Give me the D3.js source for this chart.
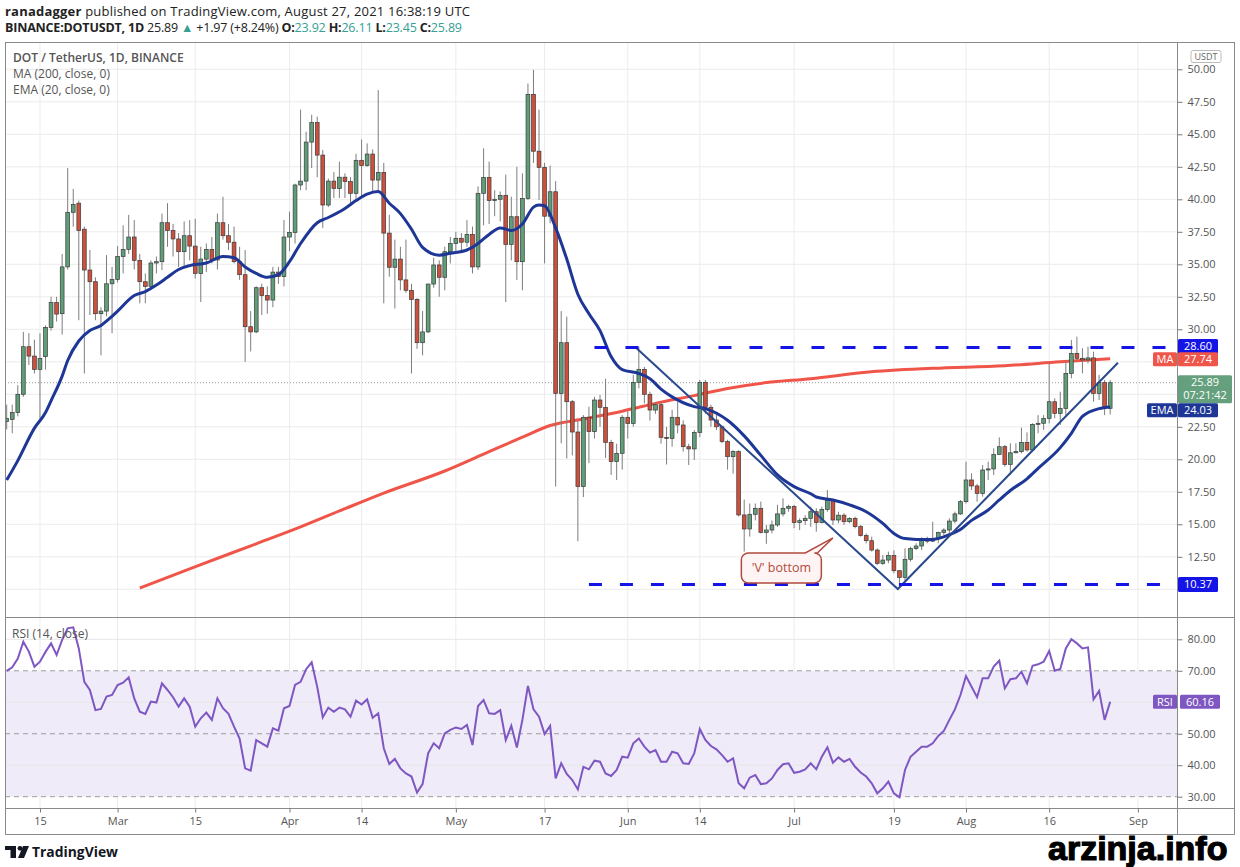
<!DOCTYPE html>
<html>
<head>
<meta charset="utf-8">
<script src="https://cdnjs.cloudflare.com/ajax/libs/d3/7.8.5/d3.min.js"></script>
<style>
  body { margin: 0; background: #fff; }
  svg { display: block; }
  text { font-family: "Open Sans", "Noto Sans", sans-serif; }
</style>
</head>
<body>
<script>
// DOT / USDT daily candles, Feb 9 2021 -> Aug 27 2021 (one value per day)
var startDate = "2021-02-09";

var opens = [22.9,23.07,23.6,25.0,28.66,27.94,26.92,27.9,30.15,32.05,
  31.2,34.8,39.0,39.7,37.7,34.56,33.66,31.2,31.4,33.5,
  33.84,35.6,36.15,37.1,35.3,33.66,33.3,35.1,35.2,38.2,
  37.6,36.95,35.97,37.2,36.4,34.3,35.4,36.15,35.33,38.2,37.2,36.7,35.2,34.2,30.2,29.8,33.2,32.6,32.25,34.4,
  34.05,37.1,37.45,41.1,41.4,44.4,45.9,43.4,39.56,41.4,40.84,41.7,41.36,40.46,43.0,42.6,43.48,41.48,42.07,37.4,
  34.77,35.4,33.8,33.0,32.3,28.97,29.8,33.48,34.95,34.0,35.97,36.6,37.0,36.7,37.3,34.8,40.46,41.69,39.9,40.0,
  40.3,36.53,38.66,35.2,40.07,48.07,43.7,42.46,38.7,40.58,25.07,28.97,24.43,22.1,17.9,23.23,22.13,24.56,24.0,21.3,
  19.82,20.46,23.23,22.76,25.92,26.92,25.0,23.79,24.2,21.69,21.6,23.23,22.64,20.97,20.8,22.07,25.92,24.0,23.02,22.5,
  21.36,20.2,20.59,15.72,14.64,15.77,16.23,14.38,14.56,14.95,15.8,16.23,16.36,15.13,15.28,15.46,15.97,15.13,16.15,16.87,
  15.33,15.7,15.2,15.46,14.82,14.13,13.74,13.02,12.0,12.25,12.59,11.43,10.92,12.31,13.13,13.33,13.79,13.7,13.9,14.38,
  14.56,15.25,15.8,16.74,18.41,17.95,17.38,19.18,19.26,20.38,20.97,19.61,20.5,20.59,21.3,20.72,22.69,22.77,23.15,24.43,
  23.53,23.92,26.61,28.15,27.77,27.64,27.8,25.07,25.9,23.92];
var highs = [24.2,24.2,25.7,29.8,29.7,29.2,29.7,30.3,32.5,32.5,
  35.8,42.4,40.8,39.9,37.9,36.1,34.0,31.7,35.7,34.8,
  36.4,38.0,38.8,38.4,35.8,34.3,35.3,35.6,38.9,39.7,
  38.1,37.4,38.3,38.4,38.5,36.35,36.6,37.1,38.9,40.2,38.1,37.9,36.35,36.1,31.4,33.3,33.5,33.3,34.8,34.8,
  38.4,39.05,41.2,46.9,45.2,46.5,46.35,43.8,41.6,42.1,42.9,42.0,41.7,43.5,44.6,44.3,43.84,48.4,42.8,38.8,
  36.9,36.35,36.9,33.5,32.4,31.4,33.5,35.5,35.3,36.35,37.1,37.5,37.4,38.4,37.9,41.0,43.92,42.9,40.7,40.6,
  41.9,40.2,42.5,42.0,48.9,49.95,46.9,42.8,42.6,41.4,31.4,30.97,24.56,23.0,23.4,24.05,24.8,24.95,26.2,21.5,
  21.2,23.4,23.7,26.5,28.66,27.1,25.2,24.4,24.4,22.5,23.8,24.4,23.0,21.2,22.25,26.1,26.1,24.2,23.4,22.6,
  21.5,20.7,20.7,16.9,16.6,16.6,16.75,14.95,15.3,16.5,17.0,16.5,16.5,15.46,15.7,16.36,16.23,16.36,17.64,16.92,
  15.97,15.85,15.54,15.59,14.95,14.3,14.05,13.15,12.64,12.9,13.0,11.48,13.15,13.28,13.54,14.0,14.05,15.2,14.43,14.69,
  15.46,15.97,16.87,19.82,18.92,18.1,19.56,19.82,20.84,21.69,21.1,21.23,21.23,22.43,22.07,22.77,23.4,23.4,27.38,24.69,
  25.2,27.5,29.18,29.43,28.54,28.66,28.28,26.49,26.1,26.11];
var lows = [22.3,22.0,23.3,24.8,27.25,26.6,23.15,26.9,29.9,30.6,
  29.6,34.6,37.9,30.7,26.6,31.1,30.7,28.0,31.0,29.7,
  33.6,34.3,35.8,34.6,32.0,32.0,33.1,34.3,34.56,36.35,
  35.6,34.8,34.8,35.3,33.9,32.1,34.4,35.07,34.6,36.9,36.1,35.07,33.8,27.5,28.3,29.7,31.1,31.2,31.7,33.5,
  33.3,36.0,36.6,40.7,40.7,42.4,41.7,37.8,39.4,40.1,40.1,40.1,39.7,39.9,40.2,42.5,40.6,40.6,32.0,34.05,
  31.6,33.0,32.8,26.6,28.5,28.0,29.7,33.2,32.5,33.0,35.07,35.8,36.1,36.35,34.3,34.56,38.0,38.1,38.7,38.3,
  32.1,35.3,33.8,33.0,39.95,42.8,39.95,35.07,38.15,17.9,21.23,20.07,20.3,13.7,17.1,19.7,21.6,22.5,20.1,18.8,
  18.4,19.2,21.6,22.5,25.46,24.3,22.97,23.5,21.2,19.6,20.97,22.0,20.59,19.56,19.95,21.7,23.5,22.5,22.25,21.23,
  19.2,18.9,15.6,12.9,14.05,15.3,14.3,13.5,14.3,14.8,15.6,15.97,14.7,14.56,14.95,14.8,14.43,15.08,15.97,14.95,
  15.08,14.95,15.08,14.69,14.05,13.53,12.9,11.87,11.87,12.0,11.23,10.37,10.6,12.13,13.02,13.02,13.54,13.66,13.54,14.18,
  14.3,15.08,15.72,16.6,17.64,16.74,17.13,18.41,18.79,20.33,19.43,18.79,20.46,20.46,20.59,20.59,22.0,22.25,22.77,23.15,
  22.64,23.4,26.23,27.64,26.61,27.38,24.43,24.56,23.4,23.45];
var closes = [23.15,23.6,25.0,28.66,27.94,26.92,27.76,30.15,32.05,31.17,
  34.8,39.0,39.6,37.6,34.56,33.66,31.2,31.4,33.5,33.84,
  35.6,36.15,37.1,35.3,33.66,33.3,35.1,35.2,38.2,37.6,
  36.95,35.97,37.2,36.4,34.3,35.4,36.15,35.33,38.2,37.2,36.7,35.2,34.2,30.2,29.8,33.2,32.6,32.25,34.4,34.05,
  37.1,37.45,41.1,41.4,44.4,45.9,43.4,39.56,41.4,40.84,41.7,41.36,40.46,43.0,42.6,43.48,41.48,42.07,37.4,34.77,
  35.4,33.8,33.0,32.3,28.97,29.8,33.48,34.95,34.0,35.97,36.6,37.0,36.7,37.3,34.8,40.46,41.69,39.9,40.0,40.3,
  36.53,38.66,35.2,40.07,48.07,43.7,42.46,38.7,40.58,25.07,28.97,24.43,22.1,17.9,23.23,22.13,24.56,24.0,21.3,19.82,
  20.46,23.23,22.76,25.92,26.92,25.0,23.79,24.2,21.69,21.6,23.23,22.64,20.97,20.8,22.07,25.92,24.0,23.02,22.5,21.36,
  20.2,20.59,15.72,14.64,15.77,16.23,14.38,14.56,14.95,15.8,16.23,16.36,15.13,15.28,15.46,15.97,15.13,16.15,16.87,15.33,
  15.7,15.2,15.46,14.82,14.13,13.74,13.02,12.0,12.25,12.59,11.43,10.92,12.31,13.13,13.33,13.79,13.7,13.9,14.38,14.56,
  15.25,15.8,16.74,18.41,17.95,17.38,19.18,19.26,20.38,20.97,19.61,20.5,20.59,21.3,20.72,22.69,22.77,23.15,24.43,23.53,
  23.92,26.61,28.15,27.77,27.64,27.8,25.07,25.9,23.92,25.89];

// RSI(14) read per day
var rsiValues = [70.0,71.1,73.9,79.25,76.1,71.3,72.9,76.0,78.7,75.0,79.8,83.5,83.8,
  77.1,66.5,63.9,57.5,57.9,61.8,62.3,65.5,66.2,67.9,
  61.2,57.0,56.3,60.2,59.9,66.0,63.9,61.6,58.6,61.25,
  58.6,52.25,54.9,56.7,54.4,61.25,58.1,56.3,52.25,48.5,
  39.0,38.3,48.0,46.95,45.9,51.7,51.0,58.1,58.8,65.5,
  66.5,70.5,72.7,64.9,55.2,58.3,57.0,58.3,57.75,55.4,
  60.5,59.3,60.9,55.1,56.5,45.4,40.4,42.0,39.0,37.4,
  36.4,31.3,34.0,43.8,46.95,45.4,50.1,51.2,52.0,51.5,
  52.8,46.4,58.8,60.7,56.5,56.3,57.5,48.0,52.5,45.6,
  54.4,65.2,57.75,55.4,49.9,52.5,35.8,40.6,37.2,35.3,
  32.3,39.5,38.7,41.45,41.1,
  37.4,36.6,38.5,42.7,42.4,46.95,48.5,
  45.9,44.0,44.8,41.1,41.1,44.3,43.8,40.6,40.4,43.8,
  51.5,48.0,46.1,45.05,43.2,41.1,42.2,34.25,32.66,36.05,
  36.9,34.0,34.25,35.8,38.5,40.3,40.6,37.6,37.95,38.7,
  40.6,38.7,42.7,45.7,40.8,42.5,41.1,42.0,39.5,37.7,
  36.4,34.25,31.07,32.66,34.8,31.07,29.8,38.5,42.7,44.3,
  45.9,45.9,46.95,49.3,50.9,54.4,57.75,62.3,68.3,64.95,
  61.6,67.6,67.6,71.3,73.2,64.4,67.3,67.6,69.7,66.0,
  71.6,72.05,72.9,76.3,70.0,70.6,77.1,80.0,78.7,77.1,
  77.45,60.9,63.6,54.4,60.16];

// EMA(20) and MA(200) read at sample days (day index from startDate)
var emaDays = [0,2,5,7,8,10,11,13,15,17,19,20,23,25,27,29,31,33,36,39,41,43,45,47,49,51,53,56,58,61,63,65,67,69,71,73,75,78,80,83,85,87,89,91,93,95,96,97,99,101,103,105,107,109,111,114,116,118,120,124,126,130,133,136,139,142,145,146,149,152,155,158,160,162,164,167,170,172,174,177,179,181,184,186,190,192,194,197,199];
var emaValues = [18.4,19.9,22.4,23.6,24.5,26.4,27.6,29.1,29.9,30.3,31.0,31.4,32.6,32.9,33.4,34.0,34.6,34.9,35.1,35.6,35.5,34.8,34.3,34.0,34.2,35.2,36.6,38.2,38.6,39.3,39.9,40.4,40.6,39.7,38.9,37.7,36.3,35.7,35.85,36.1,36.6,37.3,37.8,37.6,38.1,39.4,39.56,39.5,37.8,35.4,32.7,31.2,29.9,27.9,26.9,26.6,26.2,25.4,24.8,24.05,23.9,23.0,21.8,20.3,18.8,17.9,17.35,17.1,16.87,16.5,15.97,15.07,14.3,13.9,13.84,13.84,14.2,14.6,15.3,16.1,16.87,17.6,18.5,19.3,20.9,22.0,23.3,23.9,24.03];
var maDays = [24,35,45,53,61,68,79,86,93,98,104,111,118,124,130,137,145,155,167,180,190,199];
var maValues = [10.1,11.9,13.5,14.8,16.2,17.4,19.1,20.4,21.7,22.6,23.1,23.7,24.4,24.9,25.45,25.9,26.2,26.7,27.0,27.2,27.5,27.74];

// drawn levels and the 'V' trend lines
var resistance = { price: 28.60, fromDay: 106 };
var support = { price: 10.37, fromDay: 105 };
var vDays = [113.3, 160.7, 200.4];
var vPrices = [28.66, 10.02, 27.43];
var callout = { day: 139.7, price: 11.64, tipDay: 149, tipPrice: 13.95, text: "'V' bottom" };

var priceTicks = [10,12.5,15,17.5,20,22.5,25,27.5,30,32.5,35,37.5,40,42.5,45,47.5,50];
var priceLabelTicks = [12.5,15,17.5,20,22.5,30,32.5,35,37.5,40,42.5,45,47.5,50];
var rsiTicks = [30,40,50,60,70,80];
var rsiLabelTicks = [30,40,50,70,80];
var timeTickDates = ["2021-02-15","2021-03-01","2021-03-15","2021-04-01","2021-04-14","2021-05-01","2021-05-17",
  "2021-06-01","2021-06-14","2021-07-01","2021-07-19","2021-08-01","2021-08-16","2021-09-01"];
var timeTickLabels = ["15","Mar","15","Apr","14","May","17","Jun","14","Jul","19","Aug","16","Sep"];

var lastClose = 25.89, lastMA = 27.74, lastEMA = 24.03, lastRSI = 60.16;

// ---------------------------------------------------------------
var W = 1240, H = 867;
var paneL = 5, paneR = 1177, frameR = 1234;
var priceTop = 42, priceBot = 617, rsiBot = 808, axisBot = 834;

var green = "#5f9e79", red = "#cd503c", gridC = "#ececec";

var parse = d3.utcParse("%Y-%m-%d");
var t0 = parse(startDate);
function dayToDate(d) { return new Date(t0.getTime() + d * 864e5); }
var dates = closes.map(function(c, i) { return dayToDate(i); });

var x = d3.scaleUtc().domain([t0, parse("2021-09-01")]).range([6.7, 1137.9]);
var yP = d3.scaleLinear().domain([10, 50]).range([589.3, 69.3]);
var yR = d3.scaleLinear().domain([30, 80]).range([796.7, 639.3]);

var svg = d3.select("body").append("svg")
  .attr("width", W).attr("height", H)
  .style("background", "#fff");

var defs = svg.append("defs");
defs.append("clipPath").attr("id", "clipP").append("rect")
  .attr("x", paneL).attr("y", priceTop).attr("width", paneR - paneL).attr("height", priceBot - priceTop);
defs.append("clipPath").attr("id", "clipR").append("rect")
  .attr("x", paneL).attr("y", priceBot).attr("width", paneR - paneL).attr("height", rsiBot - priceBot);

// header
var h1 = svg.append("text").attr("x", 5).attr("y", 16).attr("font-size", 13).attr("fill", "#222")
  .attr("textLength", 465);
h1.append("tspan").attr("font-weight", 700).text("ranadagger");
h1.append("tspan").text(" published on TradingView.com, August 27, 2021 16:38:19 UTC");

var teal = "#35a094";
var h2 = svg.append("text").attr("x", 5).attr("y", 32).attr("font-size", 12.5).attr("fill", "#222")
  .attr("textLength", 457);
h2.append("tspan").attr("font-weight", 700).text("BINANCE:DOTUSDT, 1D");
h2.append("tspan").text(" 25.89 ");
h2.append("tspan").attr("fill", teal).text("\u25B2");
h2.append("tspan").text(" +1.97 (+8.24%) ");
[["O:", "23.92"], ["H:", "26.11"], ["L:", "23.45"], ["C:", "25.89"]].forEach(function(p, i) {
  h2.append("tspan").attr("font-weight", 700).text((i ? " " : "") + p[0]);
  h2.append("tspan").attr("fill", teal).text(p[1]);
});

// grid
var grid = svg.append("g");
grid.selectAll(".vg").data(timeTickDates).enter().append("line")
  .attr("x1", function(d) { return x(parse(d)); }).attr("x2", function(d) { return x(parse(d)); })
  .attr("y1", priceTop).attr("y2", rsiBot).attr("stroke", gridC);
grid.append("g").attr("clip-path", "url(#clipP)").selectAll("line").data(priceTicks).enter().append("line")
  .attr("x1", paneL).attr("x2", paneR)
  .attr("y1", function(d) { return yP(d); }).attr("y2", function(d) { return yP(d); })
  .attr("stroke", gridC);

// RSI band and guides
var rsiG = svg.append("g");
rsiG.append("rect").attr("x", paneL).attr("width", paneR - paneL)
  .attr("y", yR(70)).attr("height", yR(30) - yR(70)).attr("fill", "#efebf8");
rsiG.selectAll(".rg").data([40, 60, 80]).enter().append("line")
  .attr("x1", paneL).attr("x2", paneR)
  .attr("y1", function(d) { return yR(d); }).attr("y2", function(d) { return yR(d); })
  .attr("stroke", "#e6e6e6");
rsiG.selectAll(".rd").data([30, 50, 70]).enter().append("line")
  .attr("x1", paneL).attr("x2", paneR)
  .attr("y1", function(d) { return yR(d); }).attr("y2", function(d) { return yR(d); })
  .attr("stroke", "#9e9e9e").attr("stroke-dasharray", "5,4");

// current price dotted line
svg.append("line").attr("x1", paneL).attr("x2", paneR)
  .attr("y1", yP(lastClose)).attr("y2", yP(lastClose))
  .attr("stroke", "#999").attr("stroke-dasharray", "1,2");

var plot = svg.append("g").attr("clip-path", "url(#clipP)");

// MA 200
plot.append("path")
  .attr("d", d3.line().curve(d3.curveMonotoneX)
    .x(function(d) { return x(dayToDate(d)); })
    .y(function(d, i) { return yP(maValues[i]); })(maDays))
  .attr("fill", "none").attr("stroke", "#f0554a").attr("stroke-width", 3);

// candles
var candles = plot.selectAll(".c").data(dates).enter().append("g");
candles.append("line")
  .attr("x1", function(d) { return x(d); }).attr("x2", function(d) { return x(d); })
  .attr("y1", function(d, i) { return yP(highs[i]); })
  .attr("y2", function(d, i) { return yP(lows[i]); })
  .attr("stroke", "#7d7d7d").attr("stroke-width", 1);
candles.append("rect")
  .attr("x", function(d) { return x(d) - 1.9; })
  .attr("width", 3.8)
  .attr("y", function(d, i) { return yP(Math.max(opens[i], closes[i])); })
  .attr("height", function(d, i) { return Math.max(1, Math.abs(yP(opens[i]) - yP(closes[i]))); })
  .attr("fill", function(d, i) { return closes[i] >= opens[i] ? green : red; })
  .attr("stroke", "#3a3a3a").attr("stroke-width", 0.7);

// EMA 20
plot.append("path")
  .attr("d", d3.line().curve(d3.curveMonotoneX)
    .x(function(d) { return x(dayToDate(d)); })
    .y(function(d, i) { return yP(emaValues[i]); })(emaDays))
  .attr("fill", "none").attr("stroke", "#1e3796").attr("stroke-width", 3);

// V trend lines
plot.append("path")
  .attr("d", d3.line()
    .x(function(d) { return x(dayToDate(d)); })
    .y(function(d, i) { return yP(vPrices[i]); })(vDays))
  .attr("fill", "none").attr("stroke", "#2a4a8e").attr("stroke-width", 2);

// horizontal levels
[resistance, support].forEach(function(l) {
  plot.append("line")
    .attr("x1", x(dayToDate(l.fromDay))).attr("x2", paneR)
    .attr("y1", yP(l.price)).attr("y2", yP(l.price))
    .attr("stroke", "#1414e6").attr("stroke-width", 3).attr("stroke-dasharray", "13,18");
});

// callout
(function() {
  var cx = x(dayToDate(callout.day)), cy = yP(callout.price);
  var w = 80, h = 30, r = 7;
  var l = cx - w / 2, t = cy - h / 2, rr = cx + w / 2, b = cy + h / 2;
  var tx = x(dayToDate(callout.tipDay)), ty = yP(callout.tipPrice);
  var p = d3.path();
  p.moveTo(l + r, t);
  p.lineTo(rr - 16, t);
  p.lineTo(tx, ty);
  p.lineTo(rr - 4, t);
  p.arcTo(rr, t, rr, t + r, r);
  p.lineTo(rr, b - r);
  p.arcTo(rr, b, rr - r, b, r);
  p.lineTo(l + r, b);
  p.arcTo(l, b, l, b - r, r);
  p.lineTo(l, t + r);
  p.arcTo(l, t, l + r, t, r);
  p.closePath();
  plot.append("path").attr("d", p.toString())
    .attr("fill", "#fdf4f3").attr("stroke", "#b34a40").attr("stroke-width", 1.5);
  plot.append("text").attr("x", cx).attr("y", cy + 4.5).attr("text-anchor", "middle")
    .attr("font-size", 12.5).attr("fill", "#b34a40").text(callout.text);
})();

// RSI line
svg.append("g").attr("clip-path", "url(#clipR)").append("path")
  .attr("d", d3.line()
    .x(function(d, i) { return x(dayToDate(i)); })
    .y(function(d) { return yR(d); })(rsiValues))
  .attr("fill", "none").attr("stroke", "#7e57c2").attr("stroke-width", 2);

// pane titles
var tt = svg.append("g").attr("font-size", 12).attr("fill", "#555");
tt.append("text").attr("x", 13).attr("y", 62).attr("font-weight", 600).text("DOT / TetherUS, 1D, BINANCE");
tt.append("text").attr("x", 13).attr("y", 78).text("MA (200, close, 0)");
tt.append("text").attr("x", 13).attr("y", 94).text("EMA (20, close, 0)");
tt.append("text").attr("x", 12).attr("y", 638).text("RSI (14, close)");

// frame and separators
var fr = svg.append("g").attr("stroke", "#8a8a8a").attr("fill", "none");
fr.append("rect").attr("x", paneL + 0.5).attr("y", priceTop + 0.5)
  .attr("width", frameR - paneL).attr("height", axisBot - priceTop);
fr.append("line").attr("x1", paneL).attr("x2", frameR).attr("y1", priceBot + 0.5).attr("y2", priceBot + 0.5);
fr.append("line").attr("x1", paneL).attr("x2", frameR).attr("y1", rsiBot + 0.5).attr("y2", rsiBot + 0.5);
fr.append("line").attr("x1", paneR + 0.5).attr("x2", paneR + 0.5).attr("y1", priceTop).attr("y2", axisBot);

// axes
function styleAxis(g) {
  g.select(".domain").remove();
  g.selectAll(".tick line").attr("stroke", "#777");
  g.selectAll(".tick text").attr("fill", "#555").attr("font-size", 11)
    .style("font-family", "'Open Sans','Noto Sans',sans-serif");
}
svg.append("g").attr("transform", "translate(" + (paneR + 0.5) + ",0)")
  .call(d3.axisRight(yP).tickValues(priceLabelTicks).tickFormat(d3.format(".2f")).tickSize(5).tickPadding(5))
  .call(styleAxis);
svg.append("g").attr("transform", "translate(" + (paneR + 0.5) + ",0)")
  .call(d3.axisRight(yR).tickValues(rsiLabelTicks).tickFormat(d3.format(".2f")).tickSize(5).tickPadding(5))
  .call(styleAxis);
svg.append("g").attr("transform", "translate(0," + (rsiBot + 0.5) + ")")
  .call(d3.axisBottom(x).tickValues(timeTickDates.map(parse))
    .tickFormat(function(d, i) { return timeTickLabels[i]; }).tickSize(4).tickPadding(5))
  .call(styleAxis);

// USDT badge
svg.append("rect").attr("x", 1191).attr("y", 50.5).attr("width", 30).attr("height", 12).attr("rx", 2)
  .attr("fill", "#fff").attr("stroke", "#bbb");
svg.append("text").attr("x", 1206).attr("y", 60).attr("text-anchor", "middle")
  .attr("font-size", 9).attr("fill", "#666").text("USDT");

// value labels on the scales
function tag(x0, yc, w, h, bg, lines) {
  svg.append("rect").attr("x", x0).attr("y", yc - h / 2).attr("width", w).attr("height", h)
    .attr("rx", 1.5).attr("fill", bg);
  lines.forEach(function(s, i) {
    svg.append("text").attr("x", x0 + w / 2)
      .attr("y", yc - h / 2 + 11 + i * 13)
      .attr("text-anchor", "middle").attr("font-size", 11).attr("fill", "#fff").text(s);
  });
}
tag(paneR + 1, yP(resistance.price) - 1, 40, 15, "#1414e6", [resistance.price.toFixed(2)]);
tag(paneR - 24, yP(lastMA) + 0.5, 24, 14, "#f0554a", ["MA"]);
tag(paneR + 1, yP(lastMA) + 0.5, 40, 14, "#f0554a", [lastMA.toFixed(2)]);
var greenTop = yP(lastClose) - 7.5;
tag(paneR + 1, greenTop + 14, 54, 28, "#64a07d", [lastClose.toFixed(2), "07:21:42"]);
var emaY = Math.max(yP(lastEMA), greenTop + 28 + 7);
tag(paneR - 30, emaY, 30, 14, "#1e3796", ["EMA"]);
tag(paneR + 1, emaY, 40, 14, "#1e3796", [lastEMA.toFixed(2)]);
tag(paneR + 1, yP(support.price), 40, 15, "#1414e6", [support.price.toFixed(2)]);
tag(paneR - 24, yR(lastRSI), 24, 14, "#7e57c2", ["RSI"]);
tag(paneR + 3, yR(lastRSI), 40, 14, "#7e57c2", [lastRSI.toFixed(2)]);

// footer
var logo = svg.append("g").attr("fill", "#131722");
logo.append("rect").attr("x", 5).attr("y", 846).attr("width", 11).attr("height", 4);
logo.append("rect").attr("x", 10.5).attr("y", 846).attr("width", 5.5).attr("height", 12);
logo.append("circle").attr("cx", 20).attr("cy", 848.3).attr("r", 2.4);
logo.append("path").attr("d", "M23,846 L29,846 L24,858 L18,858 Z");
svg.append("text").attr("x", 32).attr("y", 857).attr("font-size", 15).attr("font-weight", 700)
  .attr("textLength", 86).attr("lengthAdjust", "spacingAndGlyphs")
  .attr("fill", "#131722").text("TradingView");

svg.append("text").attr("x", 1048).attr("y", 860).attr("font-size", 34).attr("font-weight", 700)
  .style("font-family", "'Liberation Sans', Arial, sans-serif")
  .attr("fill", "#000").attr("stroke", "#000").attr("stroke-width", 1.2).text("arzinja.info");
</script>
</body>
</html>
